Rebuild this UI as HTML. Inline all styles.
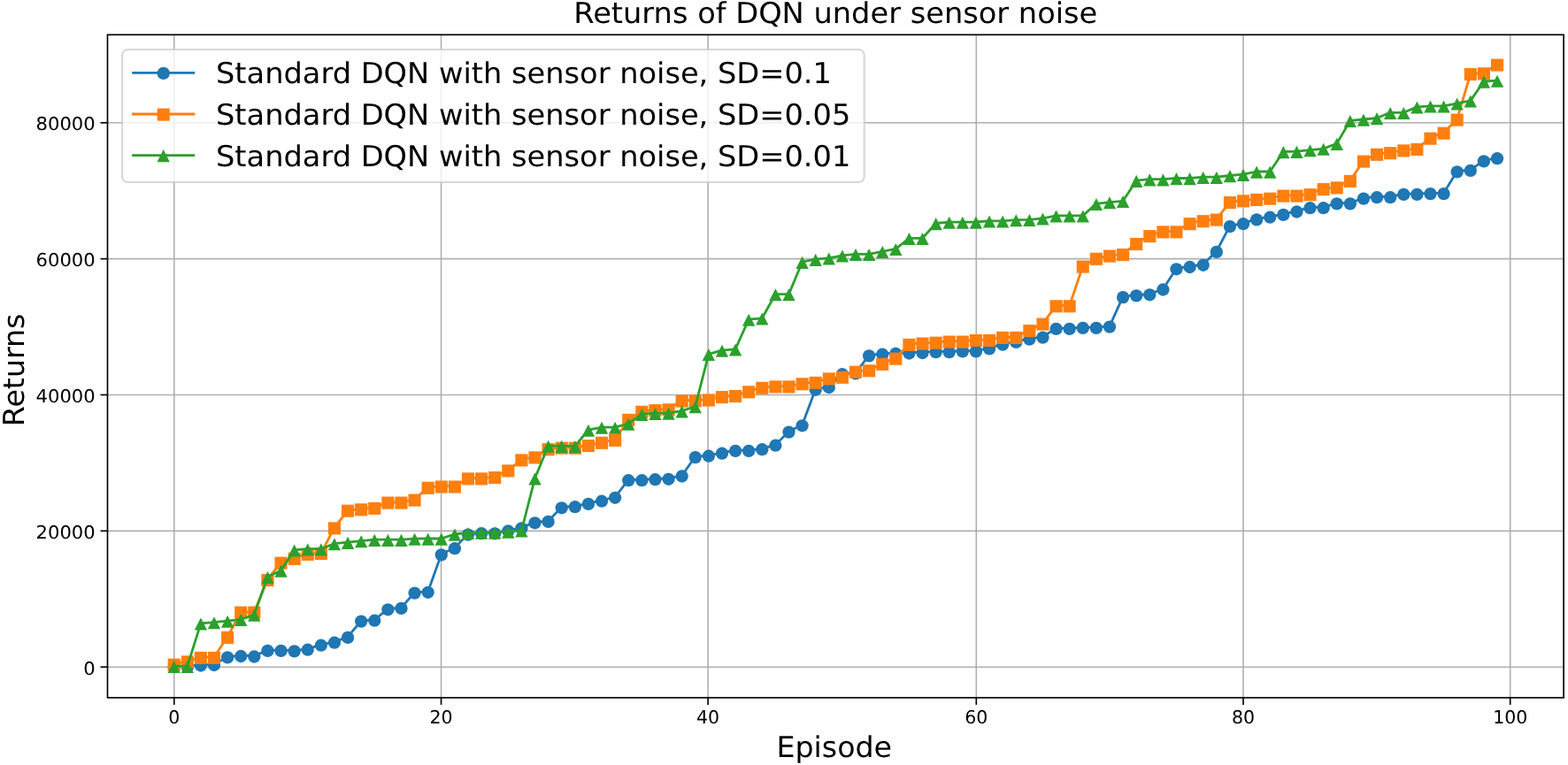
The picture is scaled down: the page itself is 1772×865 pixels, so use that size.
<!DOCTYPE html>
<html lang="en"><head><meta charset="utf-8"><title>Returns of DQN under sensor noise</title>
<style>html,body{margin:0;padding:0;background:#fff;overflow:hidden}svg{display:block}text{font-family:"DejaVu Sans","Liberation Sans",sans-serif;fill:#000;text-rendering:geometricPrecision}</style>
</head><body>
<svg width="1772" height="865" viewBox="0 0 1772 865">
<rect x="0" y="0" width="1772" height="865" fill="#ffffff"/>
<g stroke="#b0b0b0" stroke-width="1.6" fill="none">
<line x1="196.8" y1="39.3" x2="196.8" y2="788.9"/>
<line x1="498.55" y1="39.3" x2="498.55" y2="788.9"/>
<line x1="800.1" y1="39.3" x2="800.1" y2="788.9"/>
<line x1="1103.3" y1="39.3" x2="1103.3" y2="788.9"/>
<line x1="1405" y1="39.3" x2="1405" y2="788.9"/>
<line x1="1706.7" y1="39.3" x2="1706.7" y2="788.9"/>
<line x1="121.5" y1="754.2" x2="1767.1" y2="754.2"/>
<line x1="121.5" y1="600.35" x2="1767.1" y2="600.35"/>
<line x1="121.5" y1="446.45" x2="1767.1" y2="446.45"/>
<line x1="121.5" y1="292.65" x2="1767.1" y2="292.65"/>
<line x1="121.5" y1="138.8" x2="1767.1" y2="138.8"/>
</g>
<g stroke="#000" stroke-width="1.65" fill="none">
<line x1="196.8" y1="788.9" x2="196.8" y2="796.9"/>
<line x1="498.55" y1="788.9" x2="498.55" y2="796.9"/>
<line x1="800.1" y1="788.9" x2="800.1" y2="796.9"/>
<line x1="1103.3" y1="788.9" x2="1103.3" y2="796.9"/>
<line x1="1405" y1="788.9" x2="1405" y2="796.9"/>
<line x1="1706.7" y1="788.9" x2="1706.7" y2="796.9"/>
<line x1="113.5" y1="754.2" x2="121.5" y2="754.2"/>
<line x1="113.5" y1="600.35" x2="121.5" y2="600.35"/>
<line x1="113.5" y1="446.45" x2="121.5" y2="446.45"/>
<line x1="113.5" y1="292.65" x2="121.5" y2="292.65"/>
<line x1="113.5" y1="138.8" x2="121.5" y2="138.8"/>
</g>
<g>
<polyline points="196.7,753.4 211.8,753.1 226.91,751.7 242.01,751.2 257.12,742.6 272.22,741.2 287.32,741.7 302.43,735.1 317.53,735.1 332.64,735.6 347.74,733.9 362.84,728.9 377.95,725.9 393.05,720.1 408.16,701.8 423.26,700.9 438.36,688.5 453.47,687.1 468.57,669.8 483.68,669 498.78,626.6 513.88,619.4 528.99,603.8 544.09,602.4 559.2,602.5 574.3,599.7 589.4,596.6 604.51,590.5 619.61,589.1 634.72,573.5 649.82,572.4 664.92,569.1 680.03,565.9 695.13,562 710.24,542.4 725.34,542.4 740.44,541.4 755.55,541 770.65,537.7 785.76,516.3 800.86,514.9 815.96,511.9 831.07,509.1 846.17,509.1 861.28,507.4 876.38,502.9 891.48,487.8 906.59,480.5 921.69,440 936.8,437.2 951.9,422.4 967,421.6 982.11,401.6 997.21,399.9 1012.32,399.1 1027.42,398.7 1042.52,398.2 1057.63,397.4 1072.73,397.4 1087.84,396.6 1102.94,396.6 1118.04,393.6 1133.15,388.8 1148.25,386.1 1163.36,382.9 1178.46,380.8 1193.56,371.1 1208.67,371.1 1223.77,370.1 1238.88,370.1 1253.98,368.8 1269.08,335.3 1284.19,333.6 1299.29,332.5 1314.4,326.7 1329.5,303.5 1344.6,301.2 1359.71,299 1374.81,284.1 1389.92,255.3 1405.02,252.4 1420.12,247.6 1435.23,244.9 1450.33,242.1 1465.44,238.7 1480.54,234.4 1495.64,234.4 1510.75,229.6 1525.85,229.6 1540.96,223.8 1556.06,222.4 1571.16,222.4 1586.27,219.1 1601.37,219.1 1616.48,218.3 1631.58,218.3 1646.68,193.6 1661.79,192.1 1676.89,181.6 1692,178.4" fill="none" stroke="#1f77b4" stroke-width="2.8" stroke-linejoin="round" stroke-linecap="butt"/>
<circle cx="196.7" cy="754.2" r="7.15" fill="#1f77b4"/>
<circle cx="211.8" cy="753.9" r="7.15" fill="#1f77b4"/>
<circle cx="226.91" cy="752.5" r="7.15" fill="#1f77b4"/>
<circle cx="242.01" cy="752" r="7.15" fill="#1f77b4"/>
<circle cx="257.12" cy="743.4" r="7.15" fill="#1f77b4"/>
<circle cx="272.22" cy="742" r="7.15" fill="#1f77b4"/>
<circle cx="287.32" cy="742.5" r="7.15" fill="#1f77b4"/>
<circle cx="302.43" cy="735.9" r="7.15" fill="#1f77b4"/>
<circle cx="317.53" cy="735.9" r="7.15" fill="#1f77b4"/>
<circle cx="332.64" cy="736.4" r="7.15" fill="#1f77b4"/>
<circle cx="347.74" cy="734.7" r="7.15" fill="#1f77b4"/>
<circle cx="362.84" cy="729.7" r="7.15" fill="#1f77b4"/>
<circle cx="377.95" cy="726.7" r="7.15" fill="#1f77b4"/>
<circle cx="393.05" cy="720.9" r="7.15" fill="#1f77b4"/>
<circle cx="408.16" cy="702.6" r="7.15" fill="#1f77b4"/>
<circle cx="423.26" cy="701.7" r="7.15" fill="#1f77b4"/>
<circle cx="438.36" cy="689.3" r="7.15" fill="#1f77b4"/>
<circle cx="453.47" cy="687.9" r="7.15" fill="#1f77b4"/>
<circle cx="468.57" cy="670.6" r="7.15" fill="#1f77b4"/>
<circle cx="483.68" cy="669.8" r="7.15" fill="#1f77b4"/>
<circle cx="498.78" cy="627.4" r="7.15" fill="#1f77b4"/>
<circle cx="513.88" cy="620.2" r="7.15" fill="#1f77b4"/>
<circle cx="528.99" cy="604.6" r="7.15" fill="#1f77b4"/>
<circle cx="544.09" cy="603.2" r="7.15" fill="#1f77b4"/>
<circle cx="559.2" cy="603.3" r="7.15" fill="#1f77b4"/>
<circle cx="574.3" cy="600.5" r="7.15" fill="#1f77b4"/>
<circle cx="589.4" cy="597.4" r="7.15" fill="#1f77b4"/>
<circle cx="604.51" cy="591.3" r="7.15" fill="#1f77b4"/>
<circle cx="619.61" cy="589.9" r="7.15" fill="#1f77b4"/>
<circle cx="634.72" cy="574.3" r="7.15" fill="#1f77b4"/>
<circle cx="649.82" cy="573.2" r="7.15" fill="#1f77b4"/>
<circle cx="664.92" cy="569.9" r="7.15" fill="#1f77b4"/>
<circle cx="680.03" cy="566.7" r="7.15" fill="#1f77b4"/>
<circle cx="695.13" cy="562.8" r="7.15" fill="#1f77b4"/>
<circle cx="710.24" cy="543.2" r="7.15" fill="#1f77b4"/>
<circle cx="725.34" cy="543.2" r="7.15" fill="#1f77b4"/>
<circle cx="740.44" cy="542.2" r="7.15" fill="#1f77b4"/>
<circle cx="755.55" cy="541.8" r="7.15" fill="#1f77b4"/>
<circle cx="770.65" cy="538.5" r="7.15" fill="#1f77b4"/>
<circle cx="785.76" cy="517.1" r="7.15" fill="#1f77b4"/>
<circle cx="800.86" cy="515.7" r="7.15" fill="#1f77b4"/>
<circle cx="815.96" cy="512.7" r="7.15" fill="#1f77b4"/>
<circle cx="831.07" cy="509.9" r="7.15" fill="#1f77b4"/>
<circle cx="846.17" cy="509.9" r="7.15" fill="#1f77b4"/>
<circle cx="861.28" cy="508.2" r="7.15" fill="#1f77b4"/>
<circle cx="876.38" cy="503.7" r="7.15" fill="#1f77b4"/>
<circle cx="891.48" cy="488.6" r="7.15" fill="#1f77b4"/>
<circle cx="906.59" cy="481.3" r="7.15" fill="#1f77b4"/>
<circle cx="921.69" cy="440.8" r="7.15" fill="#1f77b4"/>
<circle cx="936.8" cy="438" r="7.15" fill="#1f77b4"/>
<circle cx="951.9" cy="423.2" r="7.15" fill="#1f77b4"/>
<circle cx="967" cy="422.4" r="7.15" fill="#1f77b4"/>
<circle cx="982.11" cy="402.4" r="7.15" fill="#1f77b4"/>
<circle cx="997.21" cy="400.7" r="7.15" fill="#1f77b4"/>
<circle cx="1012.32" cy="399.9" r="7.15" fill="#1f77b4"/>
<circle cx="1027.42" cy="399.5" r="7.15" fill="#1f77b4"/>
<circle cx="1042.52" cy="399" r="7.15" fill="#1f77b4"/>
<circle cx="1057.63" cy="398.2" r="7.15" fill="#1f77b4"/>
<circle cx="1072.73" cy="398.2" r="7.15" fill="#1f77b4"/>
<circle cx="1087.84" cy="397.4" r="7.15" fill="#1f77b4"/>
<circle cx="1102.94" cy="397.4" r="7.15" fill="#1f77b4"/>
<circle cx="1118.04" cy="394.4" r="7.15" fill="#1f77b4"/>
<circle cx="1133.15" cy="389.6" r="7.15" fill="#1f77b4"/>
<circle cx="1148.25" cy="386.9" r="7.15" fill="#1f77b4"/>
<circle cx="1163.36" cy="383.7" r="7.15" fill="#1f77b4"/>
<circle cx="1178.46" cy="381.6" r="7.15" fill="#1f77b4"/>
<circle cx="1193.56" cy="371.9" r="7.15" fill="#1f77b4"/>
<circle cx="1208.67" cy="371.9" r="7.15" fill="#1f77b4"/>
<circle cx="1223.77" cy="370.9" r="7.15" fill="#1f77b4"/>
<circle cx="1238.88" cy="370.9" r="7.15" fill="#1f77b4"/>
<circle cx="1253.98" cy="369.6" r="7.15" fill="#1f77b4"/>
<circle cx="1269.08" cy="336.1" r="7.15" fill="#1f77b4"/>
<circle cx="1284.19" cy="334.4" r="7.15" fill="#1f77b4"/>
<circle cx="1299.29" cy="333.3" r="7.15" fill="#1f77b4"/>
<circle cx="1314.4" cy="327.5" r="7.15" fill="#1f77b4"/>
<circle cx="1329.5" cy="304.3" r="7.15" fill="#1f77b4"/>
<circle cx="1344.6" cy="302" r="7.15" fill="#1f77b4"/>
<circle cx="1359.71" cy="299.8" r="7.15" fill="#1f77b4"/>
<circle cx="1374.81" cy="284.9" r="7.15" fill="#1f77b4"/>
<circle cx="1389.92" cy="256.1" r="7.15" fill="#1f77b4"/>
<circle cx="1405.02" cy="253.2" r="7.15" fill="#1f77b4"/>
<circle cx="1420.12" cy="248.4" r="7.15" fill="#1f77b4"/>
<circle cx="1435.23" cy="245.7" r="7.15" fill="#1f77b4"/>
<circle cx="1450.33" cy="242.9" r="7.15" fill="#1f77b4"/>
<circle cx="1465.44" cy="239.5" r="7.15" fill="#1f77b4"/>
<circle cx="1480.54" cy="235.2" r="7.15" fill="#1f77b4"/>
<circle cx="1495.64" cy="235.2" r="7.15" fill="#1f77b4"/>
<circle cx="1510.75" cy="230.4" r="7.15" fill="#1f77b4"/>
<circle cx="1525.85" cy="230.4" r="7.15" fill="#1f77b4"/>
<circle cx="1540.96" cy="224.6" r="7.15" fill="#1f77b4"/>
<circle cx="1556.06" cy="223.2" r="7.15" fill="#1f77b4"/>
<circle cx="1571.16" cy="223.2" r="7.15" fill="#1f77b4"/>
<circle cx="1586.27" cy="219.9" r="7.15" fill="#1f77b4"/>
<circle cx="1601.37" cy="219.9" r="7.15" fill="#1f77b4"/>
<circle cx="1616.48" cy="219.1" r="7.15" fill="#1f77b4"/>
<circle cx="1631.58" cy="219.1" r="7.15" fill="#1f77b4"/>
<circle cx="1646.68" cy="194.4" r="7.15" fill="#1f77b4"/>
<circle cx="1661.79" cy="192.9" r="7.15" fill="#1f77b4"/>
<circle cx="1676.89" cy="182.4" r="7.15" fill="#1f77b4"/>
<circle cx="1692" cy="179.2" r="7.15" fill="#1f77b4"/>
</g>
<g>
<polyline points="196.7,750.9 211.8,747.6 226.91,743.1 242.01,743.1 257.12,720.1 272.22,691.8 287.32,691.8 302.43,655.2 317.53,635.9 332.64,631.1 347.74,626.1 362.84,625.3 377.95,596.6 393.05,576.9 408.16,575.5 423.26,574.1 438.36,567.8 453.47,567.8 468.57,564.8 483.68,551 498.78,549.7 513.88,549.7 528.99,540.6 544.09,540.6 559.2,539.3 574.3,531.6 589.4,519.6 604.51,516.6 619.61,507.4 634.72,505.9 649.82,505.9 664.92,503.3 680.03,500 695.13,497.1 710.24,474.1 725.34,465 740.44,463.3 755.55,462.5 770.65,452.8 785.76,452.5 800.86,451.7 815.96,448.3 831.07,447.2 846.17,442.5 861.28,438 876.38,436.6 891.48,436.6 906.59,433.5 921.69,432.1 936.8,427.6 951.9,426 967,419.9 982.11,418.5 997.21,411.1 1012.32,404.9 1027.42,389.1 1042.52,387.8 1057.63,386.9 1072.73,385.8 1087.84,385.8 1102.94,384.2 1118.04,384.2 1133.15,381.1 1148.25,381.1 1163.36,373.3 1178.46,365.8 1193.56,345.5 1208.67,345.5 1223.77,300.8 1238.88,292 1253.98,288.8 1269.08,287.3 1284.19,275.2 1299.29,266.3 1314.4,261.6 1329.5,261.6 1344.6,252.4 1359.71,249.4 1374.81,247.8 1389.92,228.3 1405.02,226.6 1420.12,225.2 1435.23,223.9 1450.33,220.8 1465.44,220.8 1480.54,219.4 1495.64,213.3 1510.75,211.6 1525.85,204.1 1540.96,181.8 1556.06,174 1571.16,172.4 1586.27,169.6 1601.37,168.2 1616.48,155.9 1631.58,149.9 1646.68,134.8 1661.79,83.3 1676.89,82.5 1692,72.8" fill="none" stroke="#ff7f0e" stroke-width="2.8" stroke-linejoin="round" stroke-linecap="butt"/>
<rect x="189.65" y="744.65" width="14.1" height="14.1" fill="#ff7f0e"/>
<rect x="204.75" y="741.35" width="14.1" height="14.1" fill="#ff7f0e"/>
<rect x="219.86" y="736.85" width="14.1" height="14.1" fill="#ff7f0e"/>
<rect x="234.96" y="736.85" width="14.1" height="14.1" fill="#ff7f0e"/>
<rect x="250.07" y="713.85" width="14.1" height="14.1" fill="#ff7f0e"/>
<rect x="265.17" y="685.55" width="14.1" height="14.1" fill="#ff7f0e"/>
<rect x="280.27" y="685.55" width="14.1" height="14.1" fill="#ff7f0e"/>
<rect x="295.38" y="648.95" width="14.1" height="14.1" fill="#ff7f0e"/>
<rect x="310.48" y="629.65" width="14.1" height="14.1" fill="#ff7f0e"/>
<rect x="325.59" y="624.85" width="14.1" height="14.1" fill="#ff7f0e"/>
<rect x="340.69" y="619.85" width="14.1" height="14.1" fill="#ff7f0e"/>
<rect x="355.79" y="619.05" width="14.1" height="14.1" fill="#ff7f0e"/>
<rect x="370.9" y="590.35" width="14.1" height="14.1" fill="#ff7f0e"/>
<rect x="386" y="570.65" width="14.1" height="14.1" fill="#ff7f0e"/>
<rect x="401.11" y="569.25" width="14.1" height="14.1" fill="#ff7f0e"/>
<rect x="416.21" y="567.85" width="14.1" height="14.1" fill="#ff7f0e"/>
<rect x="431.31" y="561.55" width="14.1" height="14.1" fill="#ff7f0e"/>
<rect x="446.42" y="561.55" width="14.1" height="14.1" fill="#ff7f0e"/>
<rect x="461.52" y="558.55" width="14.1" height="14.1" fill="#ff7f0e"/>
<rect x="476.63" y="544.75" width="14.1" height="14.1" fill="#ff7f0e"/>
<rect x="491.73" y="543.45" width="14.1" height="14.1" fill="#ff7f0e"/>
<rect x="506.83" y="543.45" width="14.1" height="14.1" fill="#ff7f0e"/>
<rect x="521.94" y="534.35" width="14.1" height="14.1" fill="#ff7f0e"/>
<rect x="537.04" y="534.35" width="14.1" height="14.1" fill="#ff7f0e"/>
<rect x="552.15" y="533.05" width="14.1" height="14.1" fill="#ff7f0e"/>
<rect x="567.25" y="525.35" width="14.1" height="14.1" fill="#ff7f0e"/>
<rect x="582.35" y="513.35" width="14.1" height="14.1" fill="#ff7f0e"/>
<rect x="597.46" y="510.35" width="14.1" height="14.1" fill="#ff7f0e"/>
<rect x="612.56" y="501.15" width="14.1" height="14.1" fill="#ff7f0e"/>
<rect x="627.67" y="499.65" width="14.1" height="14.1" fill="#ff7f0e"/>
<rect x="642.77" y="499.65" width="14.1" height="14.1" fill="#ff7f0e"/>
<rect x="657.87" y="497.05" width="14.1" height="14.1" fill="#ff7f0e"/>
<rect x="672.98" y="493.75" width="14.1" height="14.1" fill="#ff7f0e"/>
<rect x="688.08" y="490.85" width="14.1" height="14.1" fill="#ff7f0e"/>
<rect x="703.19" y="467.85" width="14.1" height="14.1" fill="#ff7f0e"/>
<rect x="718.29" y="458.75" width="14.1" height="14.1" fill="#ff7f0e"/>
<rect x="733.39" y="457.05" width="14.1" height="14.1" fill="#ff7f0e"/>
<rect x="748.5" y="456.25" width="14.1" height="14.1" fill="#ff7f0e"/>
<rect x="763.6" y="446.55" width="14.1" height="14.1" fill="#ff7f0e"/>
<rect x="778.71" y="446.25" width="14.1" height="14.1" fill="#ff7f0e"/>
<rect x="793.81" y="445.45" width="14.1" height="14.1" fill="#ff7f0e"/>
<rect x="808.91" y="442.05" width="14.1" height="14.1" fill="#ff7f0e"/>
<rect x="824.02" y="440.95" width="14.1" height="14.1" fill="#ff7f0e"/>
<rect x="839.12" y="436.25" width="14.1" height="14.1" fill="#ff7f0e"/>
<rect x="854.23" y="431.75" width="14.1" height="14.1" fill="#ff7f0e"/>
<rect x="869.33" y="430.35" width="14.1" height="14.1" fill="#ff7f0e"/>
<rect x="884.43" y="430.35" width="14.1" height="14.1" fill="#ff7f0e"/>
<rect x="899.54" y="427.25" width="14.1" height="14.1" fill="#ff7f0e"/>
<rect x="914.64" y="425.85" width="14.1" height="14.1" fill="#ff7f0e"/>
<rect x="929.75" y="421.35" width="14.1" height="14.1" fill="#ff7f0e"/>
<rect x="944.85" y="419.75" width="14.1" height="14.1" fill="#ff7f0e"/>
<rect x="959.95" y="413.65" width="14.1" height="14.1" fill="#ff7f0e"/>
<rect x="975.06" y="412.25" width="14.1" height="14.1" fill="#ff7f0e"/>
<rect x="990.16" y="404.85" width="14.1" height="14.1" fill="#ff7f0e"/>
<rect x="1005.27" y="398.65" width="14.1" height="14.1" fill="#ff7f0e"/>
<rect x="1020.37" y="382.85" width="14.1" height="14.1" fill="#ff7f0e"/>
<rect x="1035.47" y="381.55" width="14.1" height="14.1" fill="#ff7f0e"/>
<rect x="1050.58" y="380.65" width="14.1" height="14.1" fill="#ff7f0e"/>
<rect x="1065.68" y="379.55" width="14.1" height="14.1" fill="#ff7f0e"/>
<rect x="1080.79" y="379.55" width="14.1" height="14.1" fill="#ff7f0e"/>
<rect x="1095.89" y="377.95" width="14.1" height="14.1" fill="#ff7f0e"/>
<rect x="1110.99" y="377.95" width="14.1" height="14.1" fill="#ff7f0e"/>
<rect x="1126.1" y="374.85" width="14.1" height="14.1" fill="#ff7f0e"/>
<rect x="1141.2" y="374.85" width="14.1" height="14.1" fill="#ff7f0e"/>
<rect x="1156.31" y="367.05" width="14.1" height="14.1" fill="#ff7f0e"/>
<rect x="1171.41" y="359.55" width="14.1" height="14.1" fill="#ff7f0e"/>
<rect x="1186.51" y="339.25" width="14.1" height="14.1" fill="#ff7f0e"/>
<rect x="1201.62" y="339.25" width="14.1" height="14.1" fill="#ff7f0e"/>
<rect x="1216.72" y="294.55" width="14.1" height="14.1" fill="#ff7f0e"/>
<rect x="1231.83" y="285.75" width="14.1" height="14.1" fill="#ff7f0e"/>
<rect x="1246.93" y="282.55" width="14.1" height="14.1" fill="#ff7f0e"/>
<rect x="1262.03" y="281.05" width="14.1" height="14.1" fill="#ff7f0e"/>
<rect x="1277.14" y="268.95" width="14.1" height="14.1" fill="#ff7f0e"/>
<rect x="1292.24" y="260.05" width="14.1" height="14.1" fill="#ff7f0e"/>
<rect x="1307.35" y="255.35" width="14.1" height="14.1" fill="#ff7f0e"/>
<rect x="1322.45" y="255.35" width="14.1" height="14.1" fill="#ff7f0e"/>
<rect x="1337.55" y="246.15" width="14.1" height="14.1" fill="#ff7f0e"/>
<rect x="1352.66" y="243.15" width="14.1" height="14.1" fill="#ff7f0e"/>
<rect x="1367.76" y="241.55" width="14.1" height="14.1" fill="#ff7f0e"/>
<rect x="1382.87" y="222.05" width="14.1" height="14.1" fill="#ff7f0e"/>
<rect x="1397.97" y="220.35" width="14.1" height="14.1" fill="#ff7f0e"/>
<rect x="1413.07" y="218.95" width="14.1" height="14.1" fill="#ff7f0e"/>
<rect x="1428.18" y="217.65" width="14.1" height="14.1" fill="#ff7f0e"/>
<rect x="1443.28" y="214.55" width="14.1" height="14.1" fill="#ff7f0e"/>
<rect x="1458.39" y="214.55" width="14.1" height="14.1" fill="#ff7f0e"/>
<rect x="1473.49" y="213.15" width="14.1" height="14.1" fill="#ff7f0e"/>
<rect x="1488.59" y="207.05" width="14.1" height="14.1" fill="#ff7f0e"/>
<rect x="1503.7" y="205.35" width="14.1" height="14.1" fill="#ff7f0e"/>
<rect x="1518.8" y="197.85" width="14.1" height="14.1" fill="#ff7f0e"/>
<rect x="1533.91" y="175.55" width="14.1" height="14.1" fill="#ff7f0e"/>
<rect x="1549.01" y="167.75" width="14.1" height="14.1" fill="#ff7f0e"/>
<rect x="1564.11" y="166.15" width="14.1" height="14.1" fill="#ff7f0e"/>
<rect x="1579.22" y="163.35" width="14.1" height="14.1" fill="#ff7f0e"/>
<rect x="1594.32" y="161.95" width="14.1" height="14.1" fill="#ff7f0e"/>
<rect x="1609.43" y="149.65" width="14.1" height="14.1" fill="#ff7f0e"/>
<rect x="1624.53" y="143.65" width="14.1" height="14.1" fill="#ff7f0e"/>
<rect x="1639.63" y="128.55" width="14.1" height="14.1" fill="#ff7f0e"/>
<rect x="1654.74" y="77.05" width="14.1" height="14.1" fill="#ff7f0e"/>
<rect x="1669.84" y="76.25" width="14.1" height="14.1" fill="#ff7f0e"/>
<rect x="1684.95" y="66.55" width="14.1" height="14.1" fill="#ff7f0e"/>
</g>
<g>
<polyline points="196.7,753.2 211.8,753.2 226.91,704.9 242.01,703.6 257.12,702.1 272.22,700.4 287.32,695 302.43,652.3 317.53,645 332.64,621.9 347.74,620.7 362.84,620.7 377.95,614.6 393.05,613.2 408.16,611.6 423.26,610.2 438.36,610.2 453.47,610.2 468.57,609.1 483.68,609 498.78,609 513.88,604 528.99,602.3 544.09,602.1 559.2,602 574.3,601.1 589.4,599.8 604.51,540.8 619.61,504.1 634.72,504.2 649.82,504.5 664.92,486.1 680.03,483.1 695.13,483.1 710.24,479 725.34,468.2 740.44,467.2 755.55,467 770.65,464.7 785.76,459.6 800.86,400.4 815.96,396.1 831.07,394.8 846.17,361.1 861.28,359.8 876.38,332.6 891.48,332.6 906.59,296.2 921.69,293.2 936.8,291.9 951.9,288.9 967,287.3 982.11,287.3 997.21,284.3 1012.32,281.4 1027.42,269.3 1042.52,269.3 1057.63,252.5 1072.73,251.1 1087.84,251.1 1102.94,251 1118.04,249.8 1133.15,249.8 1148.25,248.6 1163.36,248.3 1178.46,246.9 1193.56,243.9 1208.67,243.9 1223.77,243.9 1238.88,230.3 1253.98,228.6 1269.08,227.3 1284.19,204.2 1299.29,202.7 1314.4,202.7 1329.5,201.5 1344.6,201.5 1359.71,200.2 1374.81,200.2 1389.92,198.5 1405.02,197.2 1420.12,194 1435.23,194 1450.33,171.5 1465.44,171.2 1480.54,169.6 1495.64,168.1 1510.75,162.2 1525.85,136.4 1540.96,135 1556.06,133.5 1571.16,127.3 1586.27,127.3 1601.37,120.9 1616.48,119.8 1631.58,119.8 1646.68,116.9 1661.79,113.9 1676.89,92 1692,91.1" fill="none" stroke="#2ca02c" stroke-width="2.8" stroke-linejoin="round" stroke-linecap="butt"/>
<polygon points="196.7,746.8 189.5,760.9 203.9,760.9" fill="#2ca02c"/>
<polygon points="211.8,746.8 204.6,760.9 219,760.9" fill="#2ca02c"/>
<polygon points="226.91,698.5 219.71,712.6 234.11,712.6" fill="#2ca02c"/>
<polygon points="242.01,697.2 234.81,711.3 249.21,711.3" fill="#2ca02c"/>
<polygon points="257.12,695.7 249.92,709.8 264.32,709.8" fill="#2ca02c"/>
<polygon points="272.22,694 265.02,708.1 279.42,708.1" fill="#2ca02c"/>
<polygon points="287.32,688.6 280.12,702.7 294.52,702.7" fill="#2ca02c"/>
<polygon points="302.43,645.9 295.23,660 309.63,660" fill="#2ca02c"/>
<polygon points="317.53,638.6 310.33,652.7 324.73,652.7" fill="#2ca02c"/>
<polygon points="332.64,615.5 325.44,629.6 339.84,629.6" fill="#2ca02c"/>
<polygon points="347.74,614.3 340.54,628.4 354.94,628.4" fill="#2ca02c"/>
<polygon points="362.84,614.3 355.64,628.4 370.04,628.4" fill="#2ca02c"/>
<polygon points="377.95,608.2 370.75,622.3 385.15,622.3" fill="#2ca02c"/>
<polygon points="393.05,606.8 385.85,620.9 400.25,620.9" fill="#2ca02c"/>
<polygon points="408.16,605.2 400.96,619.3 415.36,619.3" fill="#2ca02c"/>
<polygon points="423.26,603.8 416.06,617.9 430.46,617.9" fill="#2ca02c"/>
<polygon points="438.36,603.8 431.16,617.9 445.56,617.9" fill="#2ca02c"/>
<polygon points="453.47,603.8 446.27,617.9 460.67,617.9" fill="#2ca02c"/>
<polygon points="468.57,602.7 461.37,616.8 475.77,616.8" fill="#2ca02c"/>
<polygon points="483.68,602.6 476.48,616.7 490.88,616.7" fill="#2ca02c"/>
<polygon points="498.78,602.6 491.58,616.7 505.98,616.7" fill="#2ca02c"/>
<polygon points="513.88,597.6 506.68,611.7 521.08,611.7" fill="#2ca02c"/>
<polygon points="528.99,595.9 521.79,610 536.19,610" fill="#2ca02c"/>
<polygon points="544.09,595.7 536.89,609.8 551.29,609.8" fill="#2ca02c"/>
<polygon points="559.2,595.6 552,609.7 566.4,609.7" fill="#2ca02c"/>
<polygon points="574.3,594.7 567.1,608.8 581.5,608.8" fill="#2ca02c"/>
<polygon points="589.4,593.4 582.2,607.5 596.6,607.5" fill="#2ca02c"/>
<polygon points="604.51,534.4 597.31,548.5 611.71,548.5" fill="#2ca02c"/>
<polygon points="619.61,497.7 612.41,511.8 626.81,511.8" fill="#2ca02c"/>
<polygon points="634.72,497.8 627.52,511.9 641.92,511.9" fill="#2ca02c"/>
<polygon points="649.82,498.1 642.62,512.2 657.02,512.2" fill="#2ca02c"/>
<polygon points="664.92,479.7 657.72,493.8 672.12,493.8" fill="#2ca02c"/>
<polygon points="680.03,476.7 672.83,490.8 687.23,490.8" fill="#2ca02c"/>
<polygon points="695.13,476.7 687.93,490.8 702.33,490.8" fill="#2ca02c"/>
<polygon points="710.24,472.6 703.04,486.7 717.44,486.7" fill="#2ca02c"/>
<polygon points="725.34,461.8 718.14,475.9 732.54,475.9" fill="#2ca02c"/>
<polygon points="740.44,460.8 733.24,474.9 747.64,474.9" fill="#2ca02c"/>
<polygon points="755.55,460.6 748.35,474.7 762.75,474.7" fill="#2ca02c"/>
<polygon points="770.65,458.3 763.45,472.4 777.85,472.4" fill="#2ca02c"/>
<polygon points="785.76,453.2 778.56,467.3 792.96,467.3" fill="#2ca02c"/>
<polygon points="800.86,394 793.66,408.1 808.06,408.1" fill="#2ca02c"/>
<polygon points="815.96,389.7 808.76,403.8 823.16,403.8" fill="#2ca02c"/>
<polygon points="831.07,388.4 823.87,402.5 838.27,402.5" fill="#2ca02c"/>
<polygon points="846.17,354.7 838.97,368.8 853.37,368.8" fill="#2ca02c"/>
<polygon points="861.28,353.4 854.08,367.5 868.48,367.5" fill="#2ca02c"/>
<polygon points="876.38,326.2 869.18,340.3 883.58,340.3" fill="#2ca02c"/>
<polygon points="891.48,326.2 884.28,340.3 898.68,340.3" fill="#2ca02c"/>
<polygon points="906.59,289.8 899.39,303.9 913.79,303.9" fill="#2ca02c"/>
<polygon points="921.69,286.8 914.49,300.9 928.89,300.9" fill="#2ca02c"/>
<polygon points="936.8,285.5 929.6,299.6 944,299.6" fill="#2ca02c"/>
<polygon points="951.9,282.5 944.7,296.6 959.1,296.6" fill="#2ca02c"/>
<polygon points="967,280.9 959.8,295 974.2,295" fill="#2ca02c"/>
<polygon points="982.11,280.9 974.91,295 989.31,295" fill="#2ca02c"/>
<polygon points="997.21,277.9 990.01,292 1004.41,292" fill="#2ca02c"/>
<polygon points="1012.32,275 1005.12,289.1 1019.52,289.1" fill="#2ca02c"/>
<polygon points="1027.42,262.9 1020.22,277 1034.62,277" fill="#2ca02c"/>
<polygon points="1042.52,262.9 1035.32,277 1049.72,277" fill="#2ca02c"/>
<polygon points="1057.63,246.1 1050.43,260.2 1064.83,260.2" fill="#2ca02c"/>
<polygon points="1072.73,244.7 1065.53,258.8 1079.93,258.8" fill="#2ca02c"/>
<polygon points="1087.84,244.7 1080.64,258.8 1095.04,258.8" fill="#2ca02c"/>
<polygon points="1102.94,244.6 1095.74,258.7 1110.14,258.7" fill="#2ca02c"/>
<polygon points="1118.04,243.4 1110.84,257.5 1125.24,257.5" fill="#2ca02c"/>
<polygon points="1133.15,243.4 1125.95,257.5 1140.35,257.5" fill="#2ca02c"/>
<polygon points="1148.25,242.2 1141.05,256.3 1155.45,256.3" fill="#2ca02c"/>
<polygon points="1163.36,241.9 1156.16,256 1170.56,256" fill="#2ca02c"/>
<polygon points="1178.46,240.5 1171.26,254.6 1185.66,254.6" fill="#2ca02c"/>
<polygon points="1193.56,237.5 1186.36,251.6 1200.76,251.6" fill="#2ca02c"/>
<polygon points="1208.67,237.5 1201.47,251.6 1215.87,251.6" fill="#2ca02c"/>
<polygon points="1223.77,237.5 1216.57,251.6 1230.97,251.6" fill="#2ca02c"/>
<polygon points="1238.88,223.9 1231.68,238 1246.08,238" fill="#2ca02c"/>
<polygon points="1253.98,222.2 1246.78,236.3 1261.18,236.3" fill="#2ca02c"/>
<polygon points="1269.08,220.9 1261.88,235 1276.28,235" fill="#2ca02c"/>
<polygon points="1284.19,197.8 1276.99,211.9 1291.39,211.9" fill="#2ca02c"/>
<polygon points="1299.29,196.3 1292.09,210.4 1306.49,210.4" fill="#2ca02c"/>
<polygon points="1314.4,196.3 1307.2,210.4 1321.6,210.4" fill="#2ca02c"/>
<polygon points="1329.5,195.1 1322.3,209.2 1336.7,209.2" fill="#2ca02c"/>
<polygon points="1344.6,195.1 1337.4,209.2 1351.8,209.2" fill="#2ca02c"/>
<polygon points="1359.71,193.8 1352.51,207.9 1366.91,207.9" fill="#2ca02c"/>
<polygon points="1374.81,193.8 1367.61,207.9 1382.01,207.9" fill="#2ca02c"/>
<polygon points="1389.92,192.1 1382.72,206.2 1397.12,206.2" fill="#2ca02c"/>
<polygon points="1405.02,190.8 1397.82,204.9 1412.22,204.9" fill="#2ca02c"/>
<polygon points="1420.12,187.6 1412.92,201.7 1427.32,201.7" fill="#2ca02c"/>
<polygon points="1435.23,187.6 1428.03,201.7 1442.43,201.7" fill="#2ca02c"/>
<polygon points="1450.33,165.1 1443.13,179.2 1457.53,179.2" fill="#2ca02c"/>
<polygon points="1465.44,164.8 1458.24,178.9 1472.64,178.9" fill="#2ca02c"/>
<polygon points="1480.54,163.2 1473.34,177.3 1487.74,177.3" fill="#2ca02c"/>
<polygon points="1495.64,161.7 1488.44,175.8 1502.84,175.8" fill="#2ca02c"/>
<polygon points="1510.75,155.8 1503.55,169.9 1517.95,169.9" fill="#2ca02c"/>
<polygon points="1525.85,130 1518.65,144.1 1533.05,144.1" fill="#2ca02c"/>
<polygon points="1540.96,128.6 1533.76,142.7 1548.16,142.7" fill="#2ca02c"/>
<polygon points="1556.06,127.1 1548.86,141.2 1563.26,141.2" fill="#2ca02c"/>
<polygon points="1571.16,120.9 1563.96,135 1578.36,135" fill="#2ca02c"/>
<polygon points="1586.27,120.9 1579.07,135 1593.47,135" fill="#2ca02c"/>
<polygon points="1601.37,114.5 1594.17,128.6 1608.57,128.6" fill="#2ca02c"/>
<polygon points="1616.48,113.4 1609.28,127.5 1623.68,127.5" fill="#2ca02c"/>
<polygon points="1631.58,113.4 1624.38,127.5 1638.78,127.5" fill="#2ca02c"/>
<polygon points="1646.68,110.5 1639.48,124.6 1653.88,124.6" fill="#2ca02c"/>
<polygon points="1661.79,107.5 1654.59,121.6 1668.99,121.6" fill="#2ca02c"/>
<polygon points="1676.89,85.6 1669.69,99.7 1684.09,99.7" fill="#2ca02c"/>
<polygon points="1692,84.7 1684.8,98.8 1699.2,98.8" fill="#2ca02c"/>
</g>
<rect x="121.5" y="39.3" width="1645.6" height="749.6" fill="none" stroke="#000" stroke-width="1.65"/>
<text transform="translate(196.8 818.4)" font-size="20.5" text-anchor="middle">0</text>
<text transform="translate(498.55 818.4)" font-size="20.5" text-anchor="middle">20</text>
<text transform="translate(800.1 818.4)" font-size="20.5" text-anchor="middle">40</text>
<text transform="translate(1103.3 818.4)" font-size="20.5" text-anchor="middle">60</text>
<text transform="translate(1405 818.4)" font-size="20.5" text-anchor="middle">80</text>
<text transform="translate(1706.7 818.4)" font-size="20.5" text-anchor="middle">100</text>
<text transform="translate(107.7 762.55) scale(1.0300 1)" font-size="20.5" text-anchor="end">0</text>
<text transform="translate(107.7 608.7) scale(1.0300 1)" font-size="20.5" text-anchor="end">20000</text>
<text transform="translate(107.7 454.8) scale(1.0300 1)" font-size="20.5" text-anchor="end">40000</text>
<text transform="translate(107.7 301) scale(1.0300 1)" font-size="20.5" text-anchor="end">60000</text>
<text transform="translate(107.7 147.15) scale(1.0300 1)" font-size="20.5" text-anchor="end">80000</text>
<text transform="translate(944.3 26) scale(1.0290 1)" font-size="32.7" text-anchor="middle">Returns of DQN under sensor noise</text>
<text transform="translate(942.75 856.1) scale(1.0180 1)" font-size="32.7" text-anchor="middle">Episode</text>
<text transform="translate(27 418.4) rotate(-90) scale(1.0166 1)" font-size="32.7" text-anchor="middle">Returns</text>
<rect x="138.1" y="56" width="838.6" height="150.1" rx="6.3" ry="6.3" fill="#ffffff" fill-opacity="0.8" stroke="#cccccc" stroke-opacity="0.8" stroke-width="2"/>
<line x1="150.5" y1="82.3" x2="218.9" y2="82.3" stroke="#1f77b4" stroke-width="2.8" stroke-linecap="square"/>
<circle cx="184.7" cy="82.9" r="7.15" fill="#1f77b4"/>
<text transform="translate(244 94) scale(1.0290 1)" font-size="32.7">Standard DQN with sensor noise, SD=0.1</text>
<line x1="150.5" y1="129" x2="218.9" y2="129" stroke="#ff7f0e" stroke-width="2.8" stroke-linecap="square"/>
<rect x="177.65" y="122.55" width="14.1" height="14.1" fill="#ff7f0e"/>
<text transform="translate(244 141) scale(1.0290 1)" font-size="32.7">Standard DQN with sensor noise, SD=0.05</text>
<line x1="150.5" y1="175.7" x2="218.9" y2="175.7" stroke="#2ca02c" stroke-width="2.8" stroke-linecap="square"/>
<polygon points="184.7,169.1 177.5,183.2 191.9,183.2" fill="#2ca02c"/>
<text transform="translate(244 188) scale(1.0290 1)" font-size="32.7">Standard DQN with sensor noise, SD=0.01</text>
</svg>
</body></html>
